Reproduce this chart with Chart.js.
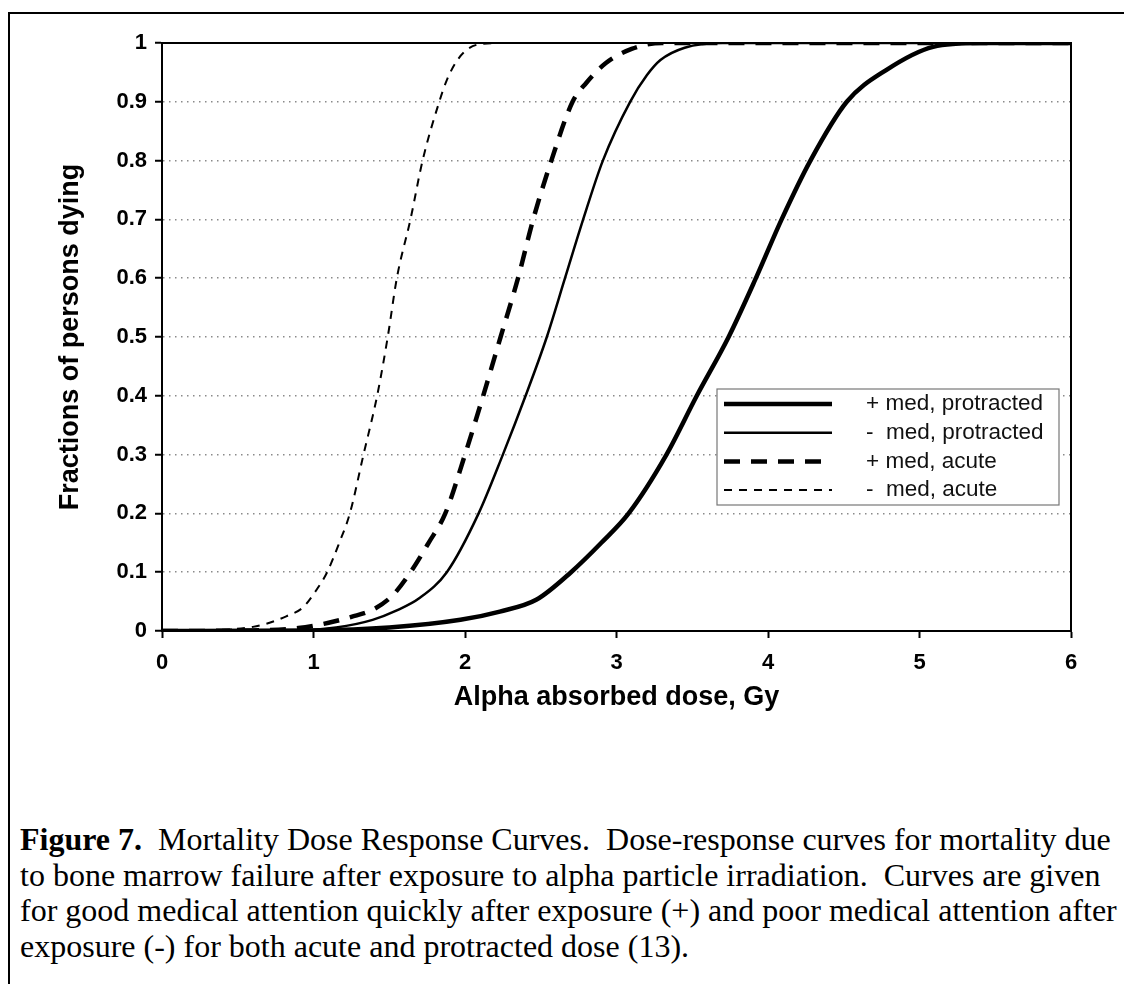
<!DOCTYPE html>
<html>
<head>
<meta charset="utf-8">
<title>Mortality Dose Response Curves</title>
<script src="https://cdn.jsdelivr.net/npm/chart.js@4.4.0/dist/chart.umd.min.js"></script>
<style>
    html, body { margin: 0; padding: 0; background: #fff; overflow: hidden; }
    body { width: 1124px; height: 984px; position: relative; }
    .frame {
        position: absolute; left: 8px; top: 12px; width: 1200px; height: 1000px;
        border-left: 2px solid #000; border-top: 2px solid #000;
    }
    #chart-wrap { position: absolute; left: 0; top: 0; width: 1124px; height: 720px; }
    .caption {
        position: absolute; left: 20px; top: 822px;
        font-family: "Liberation Serif", "Times New Roman", serif;
        font-size: 32px; line-height: 35.5px; color: #000; white-space: nowrap;
    }
</style>
</head>
<body>
<div class="frame"></div>
<div id="chart-wrap"><canvas id="doseChart" width="1124" height="720"></canvas></div>
<div class="caption">
    <b>Figure 7.</b>&nbsp; Mortality Dose Response Curves.&nbsp; Dose-response curves for mortality due<br>
    to bone marrow failure after exposure to alpha particle irradiation.&nbsp; Curves are given<br>
    for good medical attention quickly after exposure (+) and poor medical attention after<br>
    exposure (-) for both acute and protracted dose (13).
</div>
<script>
// dados (dose em Gy, fração de mortes)
const xTickLabels = ['0', '1', '2', '3', '4', '5', '6'];
const yTickLabels = ['0', '0.1', '0.2', '0.3', '0.4', '0.5', '0.6', '0.7', '0.8', '0.9', '1'];

const seriesLabels = ['+ med, protracted', '-  med, protracted', '+ med, acute', '-  med, acute'];

const dosePlusProtracted = [0, 1.0, 1.5, 1.97, 2.23, 2.47, 2.7, 2.9, 3.08, 3.33, 3.53, 3.74, 3.92, 4.09, 4.28, 4.52, 4.78, 5.09, 5.4, 6];
const fracPlusProtracted = [0, 0.001, 0.006, 0.019, 0.033, 0.053, 0.1, 0.15, 0.2, 0.3, 0.4, 0.5, 0.6, 0.7, 0.8, 0.9, 0.954, 0.9935, 1, 1];

const doseMinusProtracted = [0, 0.9, 1.15, 1.39, 1.55, 1.7, 1.88, 2.09, 2.25, 2.4, 2.54, 2.66, 2.78, 2.91, 3.09, 3.2, 3.29, 3.45, 3.7, 6];
const fracMinusProtracted = [0, 0.001, 0.006, 0.019, 0.035, 0.056, 0.1, 0.2, 0.3, 0.4, 0.5, 0.6, 0.7, 0.8, 0.9, 0.945, 0.971, 0.992, 1, 1];

const dosePlusAcute = [0, 0.6, 0.9, 1.1, 1.25, 1.39, 1.52, 1.64, 1.76, 1.87, 2.0, 2.12, 2.235, 2.35, 2.45, 2.57, 2.71, 2.8, 2.93, 3.1, 3.3, 6];
const fracPlusAcute = [0, 0.001, 0.005, 0.014, 0.024, 0.036, 0.06, 0.1, 0.15, 0.2, 0.3, 0.4, 0.5, 0.6, 0.7, 0.8, 0.9, 0.932, 0.966, 0.99, 1, 1];

const doseMinusAcute = [0, 0.4, 0.6, 0.71, 0.82, 0.93, 1.02, 1.09, 1.17, 1.24, 1.33, 1.42, 1.49, 1.55, 1.64, 1.72, 1.83, 1.88, 1.95, 2.02, 2.1, 2.3, 6];
const fracMinusAcute = [0, 0.002, 0.007, 0.014, 0.025, 0.04, 0.07, 0.1, 0.15, 0.2, 0.3, 0.4, 0.5, 0.6, 0.7, 0.8, 0.9, 0.937, 0.971, 0.99, 0.998, 1, 1];

const toPoints = (xs, ys) => xs.map((x, i) => ({ x: x, y: ys[i] }));

const SANS = '"Liberation Sans", Arial, Helvetica, sans-serif';

// moldura superior e direita da área do gráfico
const framePlugin = {
    id: 'plotFrame',
    afterDatasetsDraw: (chart) => {
        const { ctx, chartArea } = chart;
        ctx.save();
        ctx.strokeStyle = '#000';
        ctx.lineWidth = 2;
        ctx.beginPath();
        ctx.moveTo(chartArea.left, chartArea.top);
        ctx.lineTo(chartArea.right, chartArea.top);
        ctx.lineTo(chartArea.right, chartArea.bottom);
        ctx.stroke();
        ctx.restore();
    }
};

// legenda em caixa dentro da área do gráfico
const boxLegendPlugin = {
    id: 'boxLegend',
    afterDatasetsDraw: (chart) => {
        const { ctx } = chart;
        const box = { left: 717, top: 389, width: 342, height: 116 };
        ctx.save();
        ctx.fillStyle = '#fff';
        ctx.fillRect(box.left, box.top, box.width, box.height);
        ctx.strokeStyle = '#777';
        ctx.lineWidth = 1.2;
        ctx.strokeRect(box.left, box.top, box.width, box.height);
        chart.data.datasets.forEach((ds, i) => {
            const y = box.top + 15 + i * 28.7;
            ctx.setLineDash(ds.borderDash || []);
            ctx.lineWidth = ds.borderWidth;
            ctx.strokeStyle = ds.borderColor;
            ctx.beginPath();
            ctx.moveTo(724, y);
            ctx.lineTo(832, y);
            ctx.stroke();
            ctx.setLineDash([]);
            ctx.fillStyle = '#111';
            ctx.font = '22.5px ' + SANS;
            ctx.textBaseline = 'middle';
            ctx.textAlign = 'left';
            ctx.fillText(ds.label, 866, y);
        });
        ctx.restore();
    }
};

document.addEventListener('DOMContentLoaded', () => {
    const ctx = document.getElementById('doseChart').getContext('2d');

    new Chart(ctx, {
        type: 'line',
        data: {
            datasets: [
                {
                    label: seriesLabels[0],
                    data: toPoints(dosePlusProtracted, fracPlusProtracted),
                    borderColor: '#000', borderWidth: 4.5, borderDash: []
                },
                {
                    label: seriesLabels[1],
                    data: toPoints(doseMinusProtracted, fracMinusProtracted),
                    borderColor: '#000', borderWidth: 2.5, borderDash: []
                },
                {
                    label: seriesLabels[2],
                    data: toPoints(dosePlusAcute, fracPlusAcute),
                    borderColor: '#000', borderWidth: 4.5, borderDash: [16, 11]
                },
                {
                    label: seriesLabels[3],
                    data: toPoints(doseMinusAcute, fracMinusAcute),
                    borderColor: '#000', borderWidth: 2, borderDash: [8, 7]
                }
            ]
        },
        options: {
            responsive: false,
            animation: false,
            devicePixelRatio: 1,
            layout: { padding: { left: 0, right: 53, top: 43, bottom: 0 } },
            elements: {
                point: { radius: 0 },
                line: { cubicInterpolationMode: 'monotone', fill: false }
            },
            plugins: {
                legend: { display: false },
                tooltip: { enabled: false }
            },
            scales: {
                x: {
                    type: 'linear',
                    min: 0,
                    max: 6,
                    afterFit: (scale) => { scale.height = 89; },
                    ticks: {
                        stepSize: 1,
                        padding: 12,
                        color: '#000',
                        font: { family: SANS, size: 22, weight: 'bold' },
                        callback: (value) => xTickLabels[Math.round(value)]
                    },
                    grid: {
                        drawOnChartArea: false,
                        drawTicks: true,
                        tickLength: 7,
                        tickWidth: 2,
                        tickColor: '#000'
                    },
                    border: { display: true, color: '#000', width: 2 },
                    title: {
                        display: true,
                        text: 'Alpha absorbed dose, Gy',
                        color: '#000',
                        font: { family: SANS, size: 27, weight: 'bold' },
                        padding: { top: 0, bottom: 6 }
                    }
                },
                y: {
                    min: 0,
                    max: 1,
                    afterFit: (scale) => { scale.width = 162; },
                    ticks: {
                        stepSize: 0.1,
                        padding: 8,
                        color: '#000',
                        font: { family: SANS, size: 22, weight: 'bold' },
                        callback: (value) => yTickLabels[Math.round(value * 10)]
                    },
                    grid: {
                        color: '#8a8a8a',
                        lineWidth: 1.5,
                        drawTicks: true,
                        tickLength: 7,
                        tickWidth: 2,
                        tickColor: '#000'
                    },
                    border: { display: true, color: '#000', width: 2, dash: [1.5, 4.5] },
                    title: {
                        display: true,
                        text: 'Fractions of persons dying',
                        color: '#000',
                        font: { family: SANS, size: 27, weight: 'bold' },
                        padding: { top: 54, bottom: 0 }
                    }
                }
            }
        },
        plugins: [framePlugin, boxLegendPlugin]
    });
});
</script>
</body>
</html>
